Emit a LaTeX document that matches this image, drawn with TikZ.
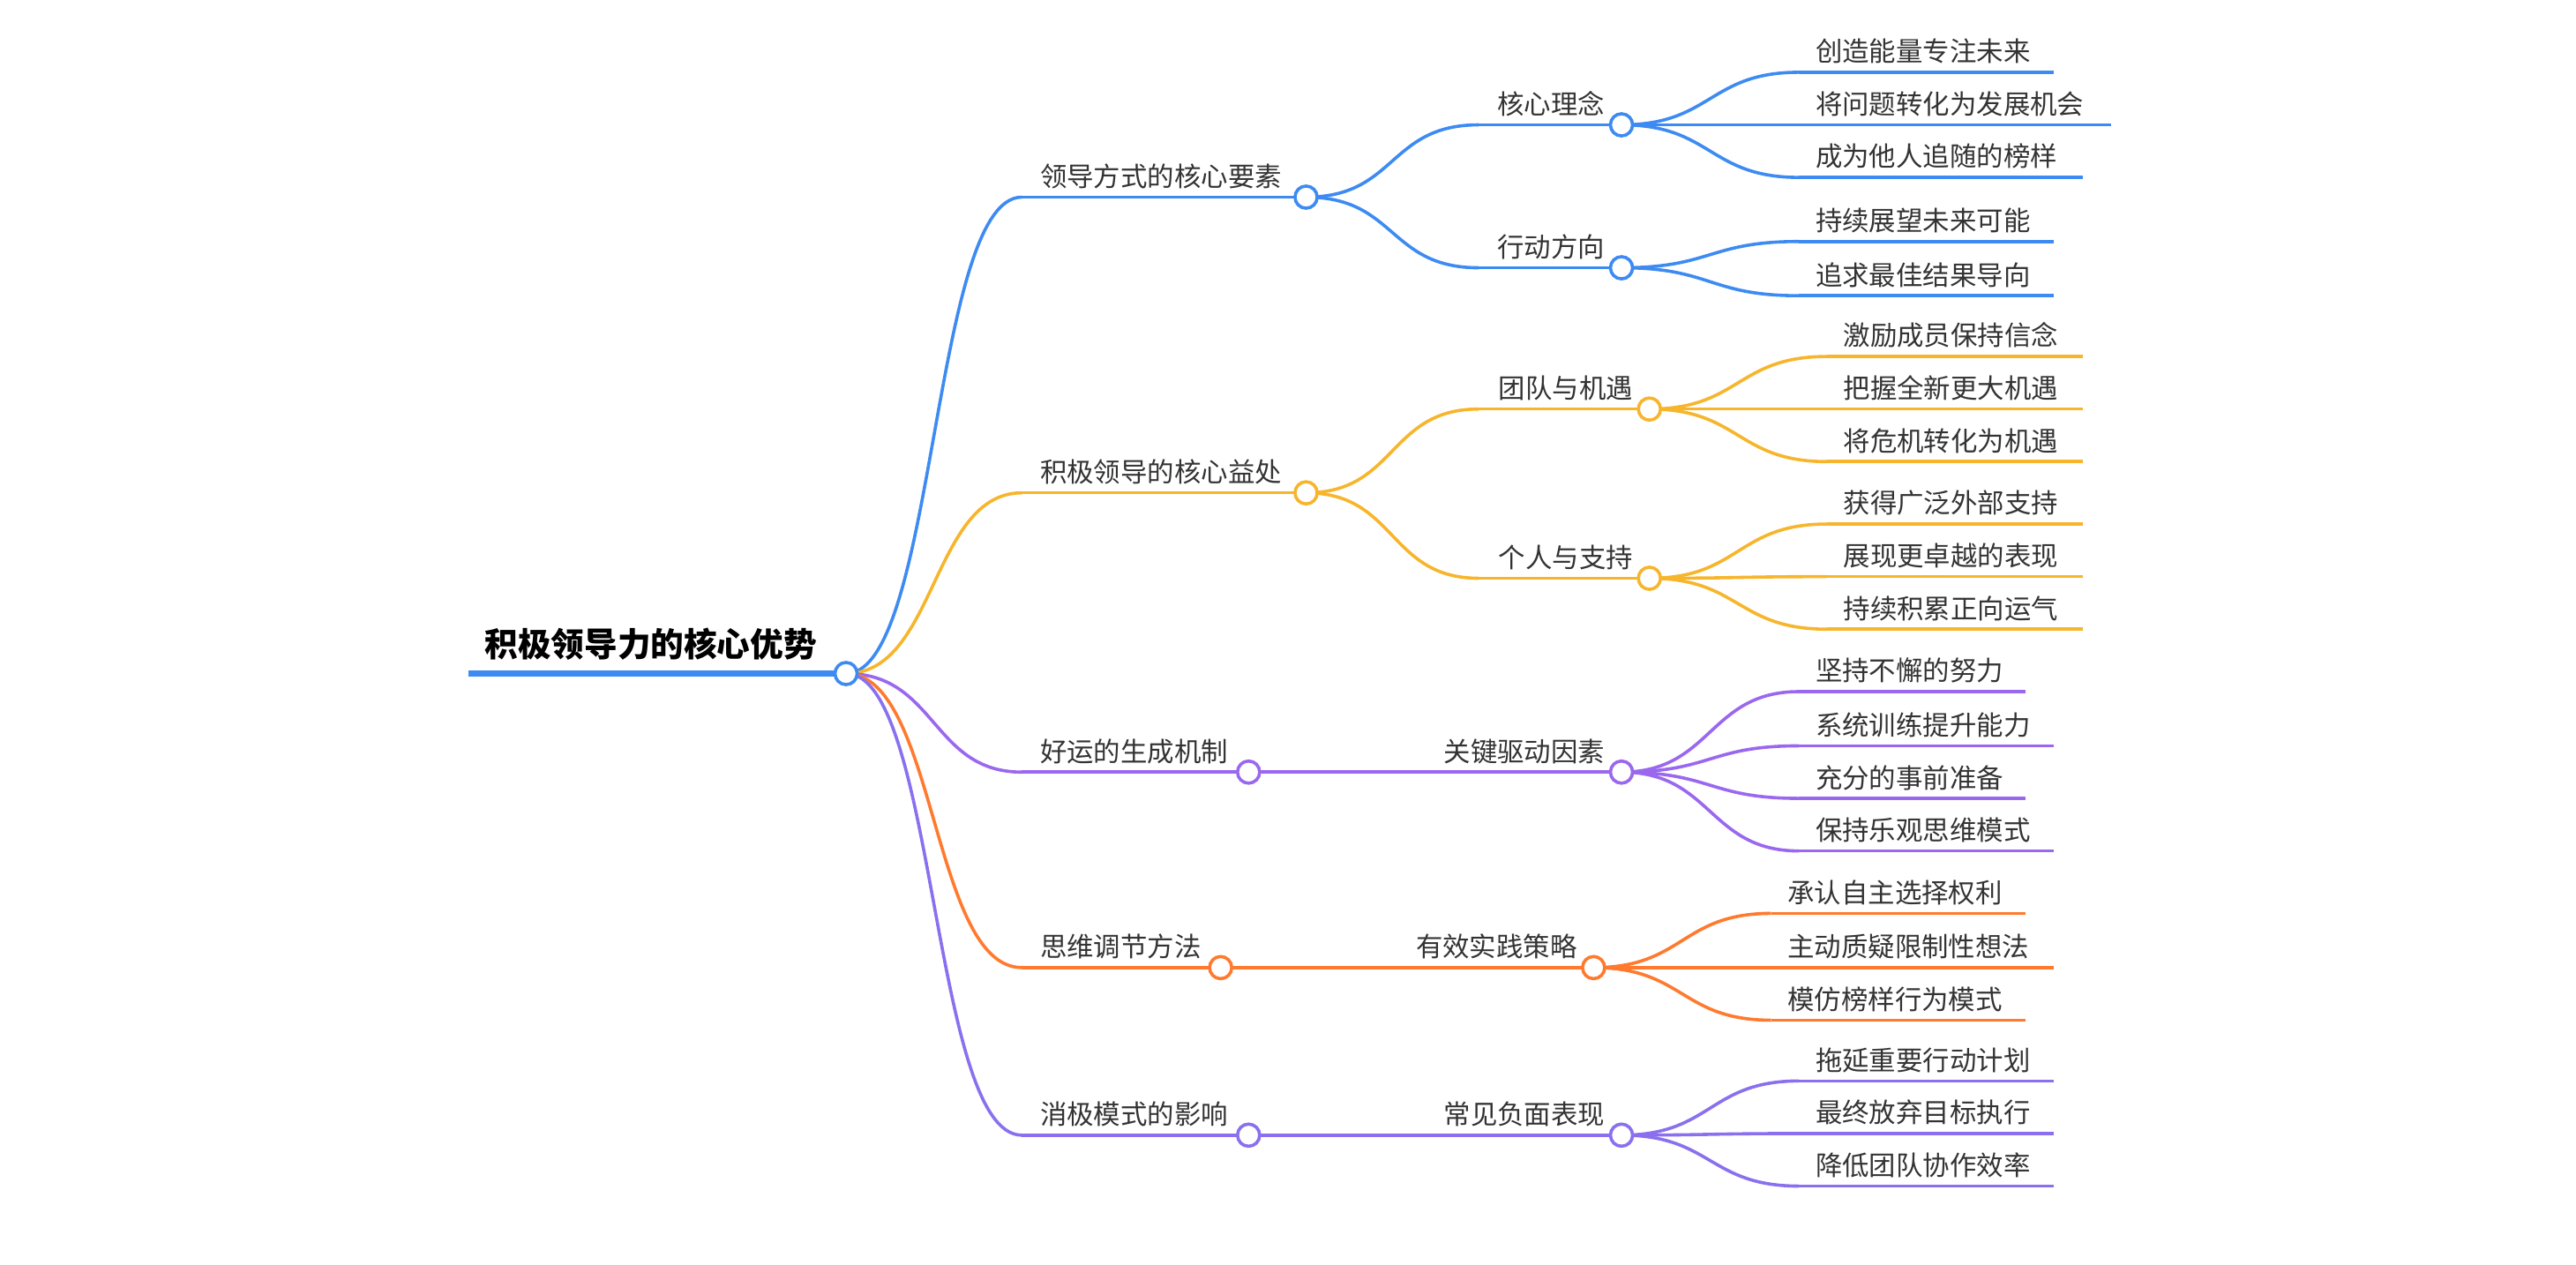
\documentclass[tikz,border=0pt]{standalone}
\usepackage{fontspec}
\setmainfont{Noto Sans CJK SC}
\usetikzlibrary{calc}
\definecolor{bluecolor}{HTML}{3D8BF2}
\definecolor{yellowcolor}{HTML}{F7B52C}
\definecolor{purplecolor}{HTML}{9A68EE}
\definecolor{orangecolor}{HTML}{FF7A2E}
\definecolor{violetcolor}{HTML}{8A70EE}
\newcommand\curveto[3]{\draw[#1] (#2) .. controls +(55,0) and +(-55,0) .. (#3);}
% Branch macros: colour, name, line start, circle, text
\newcommand\firstlevel[5]{%
  \coordinate (#2s) at #3; \coordinate (#2) at #4;
  \curveto{edge,#1}{root}{#2s}
  \draw[edge,#1] (#2s) -- (#2);
  \node[textlabel, anchor=south west] (#2t) at ($(#2s)+(9,-3)$) {#5};}
\newcommand\secondlevel[6]{%
  \coordinate (#3s) at #4; \coordinate (#3) at #5;
  \curveto{edge,#1}{#2}{#3s}
  \draw[edge,#1] (#3s) -- (#3);
  \node[textlabel, anchor=south east] (#3t) at ($(#3)+(-8,-3)$) {#6};}
\newcommand\leaves[4]{%
  \foreach \y/\e/\t [count=\i] in {#4} {
    \coordinate (#2l\i s) at (#3,\y); \coordinate (#2l\i e) at (\e,\y);
    \curveto{edge,#1}{#2}{#2l\i s}
    \draw[edge,#1] (#2l\i s) -- (#2l\i e);
    \node[textlabel, anchor=south west] (#2l\i t) at ($(#2l\i s)+(8,-3)$) {\t};
  }}
\begin{document}
\begin{tikzpicture}[x=0.02cm, y=-0.02cm,
    edge/.style={line width=1.1pt},
    dot/.style={circle, draw, fill=white, line width=1.1pt, minimum size=0.27cm, inner sep=0pt},
    textlabel/.style={font=\fontsize{9.3}{11}\selectfont, inner sep=1pt, text=black!80},
    rootlabel/.style={font=\fontsize{11.5}{13}\selectfont\bfseries, inner sep=1pt}
]
\useasboundingbox (0,0) rectangle (1568,770);

% Root
\coordinate (root) at (515,410);
\coordinate (rootstart) at (285,410);
\draw[bluecolor, line width=2pt] (rootstart) -- (root);
\node[rootlabel, anchor=south west] (roottext) at (293,404) {积极领导力的核心优势};

% Blue branch
\firstlevel{bluecolor}{ba}{(622,120)}{(795,120)}{领导方式的核心要素}
\secondlevel{bluecolor}{ba}{baa}{(900,76)}{(987,76)}{核心理念}
\secondlevel{bluecolor}{ba}{bab}{(900,163)}{(987,163)}{行动方向}
\leaves{bluecolor}{baa}{1095}{44/1250/创造能量专注未来, 76/1285/将问题转化为发展机会, 108/1268/成为他人追随的榜样}
\leaves{bluecolor}{bab}{1095}{147/1250/持续展望未来可能, 180/1250/追求最佳结果导向}

% Yellow branch
\firstlevel{yellowcolor}{bb}{(622,300)}{(795,300)}{积极领导的核心益处}
\secondlevel{yellowcolor}{bb}{bba}{(900,249)}{(1004,249)}{团队与机遇}
\secondlevel{yellowcolor}{bb}{bbb}{(900,352)}{(1004,352)}{个人与支持}
\leaves{yellowcolor}{bba}{1112}{217/1268/激励成员保持信念, 249/1268/把握全新更大机遇, 281/1268/将危机转化为机遇}
\leaves{yellowcolor}{bbb}{1112}{319/1268/获得广泛外部支持, 351/1268/展现更卓越的表现, 383/1268/持续积累正向运气}

% Purple branch
\firstlevel{purplecolor}{bc}{(622,470)}{(760,470)}{好运的生成机制}
\secondlevel{purplecolor}{bc}{bca}{(866,470)}{(987,470)}{关键驱动因素}
\leaves{purplecolor}{bca}{1095}{421/1233/坚持不懈的努力, 454/1250/系统训练提升能力, 486/1233/充分的事前准备, 518/1250/保持乐观思维模式}

% Orange branch
\firstlevel{orangecolor}{bd}{(622,589)}{(743,589)}{思维调节方法}
\secondlevel{orangecolor}{bd}{bda}{(849,589)}{(970,589)}{有效实践策略}
\leaves{orangecolor}{bda}{1078}{556/1233/承认自主选择权利, 589/1250/主动质疑限制性想法, 621/1233/模仿榜样行为模式}

% Violet branch
\firstlevel{violetcolor}{be}{(622,691)}{(760,691)}{消极模式的影响}
\secondlevel{violetcolor}{be}{bea}{(866,691)}{(987,691)}{常见负面表现}
\leaves{violetcolor}{bea}{1095}{658/1250/拖延重要行动计划, 690/1250/最终放弃目标执行, 722/1250/降低团队协作效率}

% Dots on top
\node[dot, draw=bluecolor] (rootdot) at (root) {};
\foreach \n/\c in {ba/bluecolor, baa/bluecolor, bab/bluecolor,
                   bb/yellowcolor, bba/yellowcolor, bbb/yellowcolor,
                   bc/purplecolor, bca/purplecolor,
                   bd/orangecolor, bda/orangecolor,
                   be/violetcolor, bea/violetcolor}
  \node[dot, draw=\c] (\n dot) at (\n) {};
\end{tikzpicture}
\end{document}
